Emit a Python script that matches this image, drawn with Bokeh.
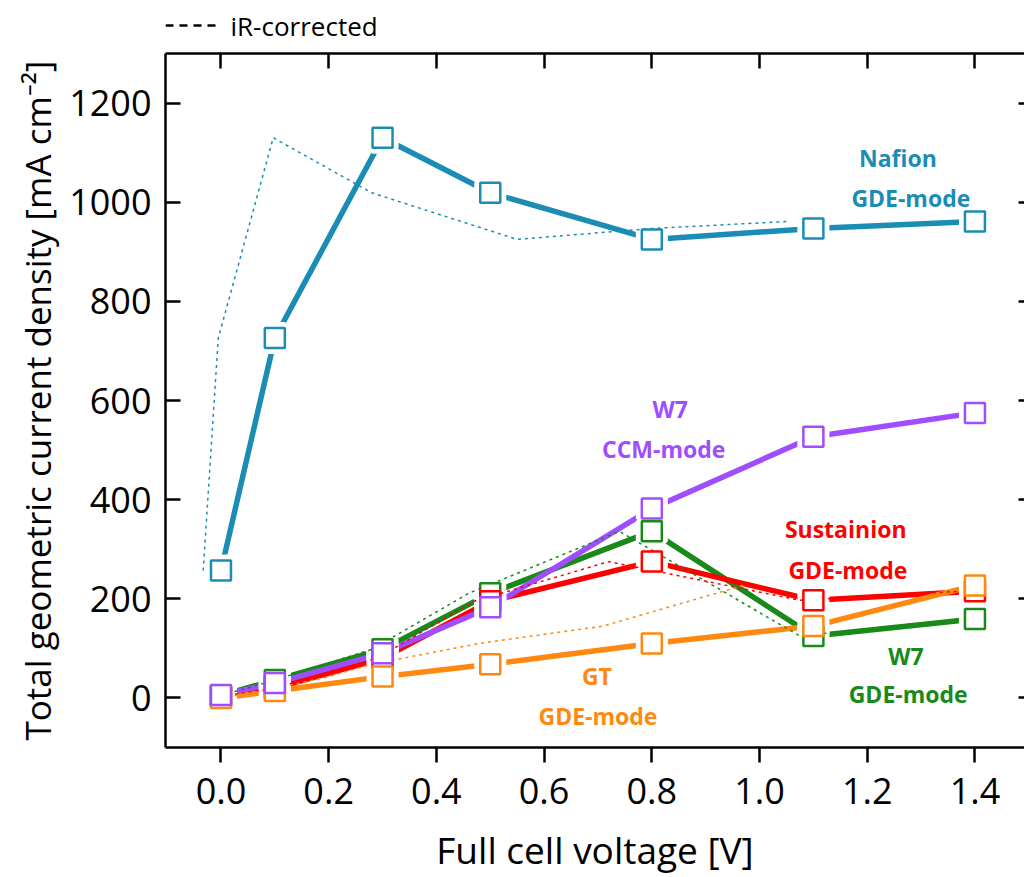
from bokeh.plotting import figure
from bokeh.layouts import column
from bokeh.models import LinearAxis, FixedTicker, PrintfTickFormatter, Range1d, Label
from bokeh.embed import file_html
from bokeh.resources import INLINE

# Cell voltage steps [V]
voltage = [0.0, 0.1, 0.3, 0.5, 0.8, 1.1, 1.4]

# Total geometric current density [mA cm^-2] per membrane / mode
nafion_gde = [257, 726, 1130, 1019, 925, 947, 961]
w7_ccm = [6, 30, 90, 183, 382, 527, 575]
w7_gde = [5, 36, 98, 211, 336, 125, 159]
sustainion_gde = [3, 20, 80, 195, 275, 197, 215]
gt_gde = [0, 14, 43, 68, 110, 145, 227]

# iR-corrected cell voltages for the same current densities
nafion_ir_v = [-0.033, -0.005, 0.097, 0.28, 0.55, 0.8, 1.05]
w7_gde_ir_v = [0.0, 0.1, 0.28, 0.46, 0.74, 1.075, 1.37]
sustainion_ir_v = [0.0, 0.1, 0.29, 0.47, 0.72, 1.075, 1.37]
gt_ir_v = [0.0, 0.08, 0.2, 0.28, 0.48, 0.71, 0.97]

x_ticks = [0.0, 0.2, 0.4, 0.6, 0.8, 1.0, 1.2, 1.4]
y_ticks = [0, 200, 400, 600, 800, 1000, 1200]

BLUE = "#1b8db5"
PURPLE = "#a04cff"
GREEN = "#198a19"
RED = "#ff0000"
ORANGE = "#ff8811"

FONT = "Open Sans"

# ---- key strip for the dotted iR-corrected curves ----
# its frame is aligned with the chart frame below, so x is in page pixels
key = figure(width=1024, height=44, output_backend="svg", toolbar_location=None,
             x_range=Range1d(165, 1024), y_range=Range1d(0, 44),
             min_border=0, background_fill_color="white", border_fill_color="white")
key.axis.visible = False
key.grid.visible = False
key.outline_line_color = None
key.line([165, 215], [19, 19], line_color="black", line_width=2.5, line_dash="8 6")
key.add_layout(Label(x=230, y=19, text="iR-corrected", text_align="left",
                     text_baseline="middle", text_font=FONT, text_font_size="26px",
                     text_color="black"))

# ---- main chart ----
p = figure(width=1024, height=833, output_backend="svg", toolbar_location=None,
           x_range=Range1d(-0.103, 1.492), y_range=Range1d(-100, 1300),
           min_border_left=165, min_border_right=0, min_border_top=9,
           min_border_bottom=127, background_fill_color="white",
           border_fill_color="white")
p.outline_line_color = None
p.grid.visible = False

xa = p.xaxis[0]
xa.ticker = FixedTicker(ticks=x_ticks)
xa.formatter = PrintfTickFormatter(format="%.1f")
xa.axis_label = "Full cell voltage [V]"
ya = p.yaxis[0]
ya.ticker = FixedTicker(ticks=y_ticks)
ya.axis_label = "Total geometric current density [mA cm\u207b\u00b2]"

for ax in (xa, ya):
    ax.axis_line_width = 2.5
    ax.axis_line_color = "black"
    ax.major_tick_line_width = 2.5
    ax.major_tick_line_color = "black"
    ax.minor_tick_line_color = None
    ax.major_label_text_font = FONT
    ax.major_label_text_font_size = "36px"
    ax.major_label_text_color = "black"
    ax.axis_label_text_font = FONT
    ax.axis_label_text_font_style = "normal"
    ax.axis_label_text_color = "black"

xa.axis_label_text_font_size = "37px"
ya.axis_label_text_font_size = "35px"

xa.major_tick_in = 0
xa.major_tick_out = 15
xa.major_label_standoff = 15
xa.axis_label_standoff = 17
ya.major_tick_in = 15
ya.major_tick_out = 0
ya.major_label_standoff = 14
ya.axis_label_standoff = 5

# top axis: inward ticks, no labels
top = LinearAxis(ticker=FixedTicker(ticks=x_ticks),
                 major_label_overrides={t: "" for t in x_ticks},
                 major_label_standoff=0, axis_line_width=2.5, major_tick_line_width=2.5,
                 major_tick_in=15, major_tick_out=0, minor_tick_line_color=None)
p.add_layout(top, "above")
# right axis: inward ticks, frame edge runs off the page
right = LinearAxis(ticker=FixedTicker(ticks=y_ticks),
                   major_label_overrides={t: "" for t in y_ticks},
                   major_label_standoff=0, axis_line_color=None, major_tick_line_width=2.5,
                   major_tick_in=6, major_tick_out=0, minor_tick_line_color=None)
p.add_layout(right, "right")

series = [
    (nafion_gde, BLUE),
    (w7_gde, GREEN),
    (sustainion_gde, RED),
    (gt_gde, ORANGE),
    (w7_ccm, PURPLE),
]

for vals, col in series:
    p.line(voltage, vals, line_color=col, line_width=5.5)

# white halo so each segment stops short of its symbol
for vals, col in series:
    p.scatter(voltage, vals, marker="square", size=20, fill_color="white",
              line_color="white", line_width=12)

# iR-corrected curves
ir_curves = [
    (nafion_ir_v, nafion_gde, BLUE),
    (w7_gde_ir_v, w7_gde, GREEN),
    (sustainion_ir_v, sustainion_gde, RED),
    (gt_ir_v, gt_gde, ORANGE),
]
for vv, vals, col in ir_curves:
    p.line(vv, vals, line_color=col, line_width=1.5, line_dash="3 4")

for vals, col in series:
    p.scatter(voltage, vals, marker="square", size=20, fill_color="white",
              line_color=col, line_width=2.5)

# series labels
labels = [
    ("Nafion", 1.257, 1089, BLUE),
    ("GDE-mode", 1.281, 1009, BLUE),
    ("W7", 0.834, 583, PURPLE),
    ("CCM-mode", 0.822, 503, PURPLE),
    ("Sustainion", 1.160, 340, RED),
    ("GDE-mode", 1.164, 259, RED),
    ("GT", 0.698, 44, ORANGE),
    ("GDE-mode", 0.700, -36, ORANGE),
    ("W7", 1.272, 84, GREEN),
    ("GDE-mode", 1.276, 8, GREEN),
]
for txt, x, y, col in labels:
    p.add_layout(Label(x=x, y=y, text=txt, text_align="center", text_baseline="middle",
                       text_font=FONT, text_font_size="23px", text_font_style="bold",
                       text_color=col))

open("out.html", "w").write(file_html(column(key, p, spacing=0), INLINE))
